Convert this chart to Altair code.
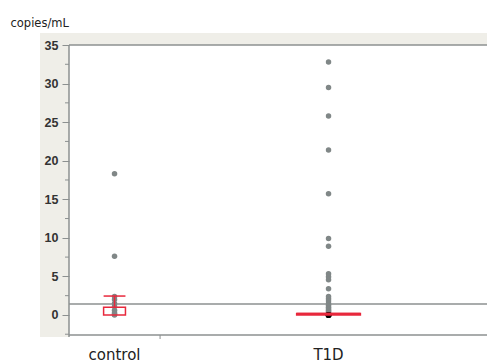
import altair as alt
import pandas as pd
import numpy as np

# ---- data ----
groups = ["control", "T1D"]
group_n = [10, 37]  # JMP draws category widths proportional to N

control_values = [18.3, 7.6, 2.4, 2.0, 1.5, 1.1, 0.6, 0.3, 0.1, 0.0]
t1d_values = [32.8, 29.5, 25.8, 21.4, 15.7, 9.9, 8.9, 5.35, 4.95, 4.55, 3.4,
              2.4, 2.1, 1.8, 1.5, 1.25, 1.0, 0.8, 0.6, 0.45, 0.3, 0.2, 0.1,
              0, 0, 0, 0, 0, 0, 0, 0, 0, 0, 0, 0, 0, 0]

box_q1 = [0.0, 0.0]
box_q3 = [1.0, 0.2]
whisker_hi = [2.45, 0.2]
box_halfwidth = [1.2, 3.5]

ref_line = 1.42
y_ticks = [0, 5, 10, 15, 20, 25, 30, 35]
y_minor = [-2.5, 2.5, 7.5, 12.5, 17.5, 22.5, 27.5, 32.5]

# ---- derived tables ----
edges = np.concatenate([[0], np.cumsum(group_n)])
centers = (edges[:-1] + edges[1:]) / 2.0
grp = pd.DataFrame({
    "group": groups,
    "center": centers,
    "lo": centers - np.array(box_halfwidth),
    "hi": centers + np.array(box_halfwidth),
    "q1": box_q1, "q3": box_q3, "wh": whisker_hi,
})
dividers = pd.DataFrame({"edge": edges[1:-1]})

pts = pd.DataFrame({
    "group": ["control"] * len(control_values) + ["T1D"] * len(t1d_values),
    "value": control_values + t1d_values,
})
pts["center"] = pts["group"].map(dict(zip(groups, centers)))
pts["dark"] = (pts["group"] == "T1D") & (pts["value"] == 0)
pts = pts.sort_values("dark")

W, H = 418, 290
xdom = [0, float(edges[-1]) * W / 428]
X = lambda f: alt.X(f, type="quantitative", scale=alt.Scale(domain=xdom, nice=False, zero=False), axis=None)
yscale = alt.Scale(domain=[-2.6, 35], nice=False, zero=False)

one = pd.DataFrame({"a": [0]})
BEIGE = "#efeee8"
AX = "#8c9090"
RED = "#e8283c"
GRAY = "#808787"

frame_left = alt.Chart(one).mark_rect(color=BEIGE).encode(
    x=alt.value(-29), x2=alt.value(0), y=alt.value(-12), y2=alt.value(292))
frame_top = alt.Chart(one).mark_rect(color=BEIGE).encode(
    x=alt.value(0), x2=alt.value(W), y=alt.value(-12), y2=alt.value(0))
top_line = alt.Chart(one).mark_rule(color=AX, strokeWidth=1.5).encode(
    x=alt.value(0), x2=alt.value(W), y=alt.value(0))
left_line = alt.Chart(one).mark_rule(color=AX, strokeWidth=1.5).encode(
    x=alt.value(0), y=alt.value(0), y2=alt.value(292))
bottom_line = alt.Chart(one).mark_rule(color=AX, strokeWidth=1.5).encode(
    x=alt.value(0), x2=alt.value(W), y=alt.value(H))

yaxis_layer = alt.Chart(pd.DataFrame({"v": y_ticks})).mark_point(opacity=0).encode(
    y=alt.Y("v:Q", scale=yscale, axis=alt.Axis(
        values=y_ticks, title="copies/mL", titleAngle=0, titleAlign="left",
        titleBaseline="alphabetic", titleX=-59, titleY=-19,
        titleFont="DejaVu Sans", titleFontSize=11.5, titleFontWeight="normal",
        titleColor="#222222",
        labelFont="Liberation Sans", labelFontSize=12.5, labelFontWeight="bold",
        labelColor="#333333", labelPadding=4, tickSize=7, tickColor=AX,
        tickWidth=1, domain=False, grid=False, zindex=1)),
    x=alt.value(-100))

minor = alt.Chart(pd.DataFrame({"m": y_minor})).mark_rule(color=AX, strokeWidth=1).encode(
    y=alt.Y("m:Q", scale=yscale), x=alt.value(-4), x2=alt.value(0))

div_tick = alt.Chart(dividers).mark_rule(color=AX, strokeWidth=1).encode(
    x=X("edge"), y=alt.value(H), y2=alt.value(H + 4))

ref = alt.Chart(pd.DataFrame({"r": [ref_line]})).mark_rule(color=AX, strokeWidth=1.6).encode(
    y=alt.Y("r:Q", scale=yscale), x=alt.value(0), x2=alt.value(W))

points = alt.Chart(pts).mark_circle(size=30, opacity=1).encode(
    x=X("center"), y=alt.Y("value:Q", scale=yscale),
    color=alt.condition("datum.dark", alt.value("#000000"), alt.value(GRAY)))

box = alt.Chart(grp).mark_rect(fill=None, fillOpacity=0, stroke=RED, strokeWidth=1.5).encode(
    x=X("lo"), x2="hi", y=alt.Y("q1:Q", scale=yscale), y2="q3")
whisk = alt.Chart(grp).mark_rule(color=RED, strokeWidth=1.5).encode(
    x=X("center"), y=alt.Y("q3:Q", scale=yscale), y2="wh")
cap = alt.Chart(grp).mark_rule(color=RED, strokeWidth=1.5).encode(
    x=X("lo"), x2="hi", y=alt.Y("wh:Q", scale=yscale))

labels = alt.Chart(grp).mark_text(font="DejaVu Sans", fontSize=15, color="#222222",
                                  baseline="bottom", align="center").encode(
    x=X("center"), y=alt.value(H + 28), text="group:N")

chart = alt.layer(
    frame_left, frame_top, yaxis_layer, minor, ref, points, box, whisk, cap,
    top_line, left_line, bottom_line, div_tick, labels
).properties(
    width=W, height=H,
    autosize=alt.AutoSizeParams(type="none"),
    padding={"left": 61, "top": 37, "right": 0, "bottom": 28},
    background="white",
).configure_view(stroke=None)

chart.save("out.html", embed_options={"renderer": "svg", "actions": False})
